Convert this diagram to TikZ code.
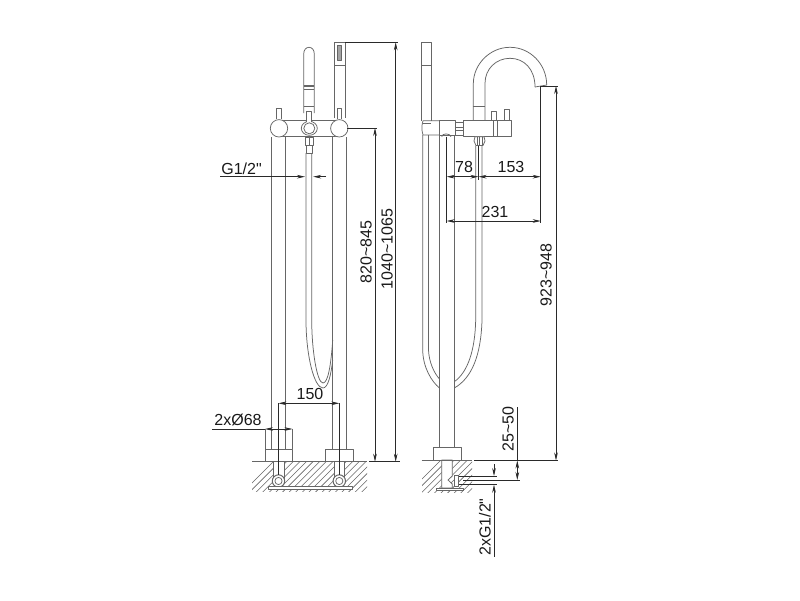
\documentclass[tikz,border=0pt]{standalone}
\usepackage{fontspec}
\setmainfont{Liberation Sans}
\newfontfamily\plainquote{Liberation Sans}
\usetikzlibrary{arrows.meta}
\definecolor{partc}{HTML}{666666}
\definecolor{dimc}{HTML}{2A2A2A}
\tikzset{
  part/.style={draw=partc,line width=0.75pt,line join=round},
  hatchline/.style={draw=partc,line width=0.55pt},
  masked/.style={part,fill=white},
  dimline/.style={draw=dimc,line width=0.65pt},
  dimarrow/.style={dimline,{Stealth[length=8pt,width=3.6pt]}-{Stealth[length=8pt,width=3.6pt]}},
  endarrow/.style={dimline,-{Stealth[length=8pt,width=3.6pt]}},
  extline/.style={draw=dimc,line width=0.55pt},
  dimtext/.style={font=\fontsize{16}{16}\selectfont,text=black!90,inner sep=0pt},
  dimup/.style={dimtext,rotate=90}
}
\begin{document}
\begin{tikzpicture}[x=1pt,y=-1pt]
\useasboundingbox[fill=white] (0,0) rectangle (800,600);
% ---------- hatching of the floor
\begin{scope}
  \clip (252,462) rectangle (367,491);
  \foreach \i in {0,...,24} \draw[hatchline] (240+\i*6.6,495) -- (240+\i*6.6+38,457);
\end{scope}
\begin{scope}
  \clip (422,461) rectangle (472,492);
  \foreach \i in {0,...,12} \draw[hatchline] (405+\i*6.6,496) -- (405+\i*6.6+38,458);
\end{scope}
% ---------- LEFT VIEW
% hand shower (capsule handle)
\draw[part] (303.7,113) -- (303.7,54) .. controls (303.7,50) and (306,47.3) .. (309,47.3) .. controls (312,47.3) and (314.3,50) .. (314.3,54) -- (314.3,113);
\draw[part,line width=1.1pt] (303.7,86) -- (314.3,86);
\draw[part] (303.7,89) -- (314.3,89);
\draw[part] (303.7,106) -- (314.3,106);
% hand shower (head)
\draw[part] (334.3,118) -- (334.3,42.3) -- (345,42.3) -- (345,118);
\draw[part] (334.3,65) -- (345,65);
\draw[part,fill=partc!60] (337.7,45.7) rectangle (341.7,60);
% body
\draw[part] (279,120) -- (339,120);
\draw[part] (279,136.7) -- (339,136.7);
\draw[masked] (276.7,119) -- (276.7,108.7) -- (281,108.7) -- (281,119);
\draw[masked] (337.3,119) -- (337.3,108.7) -- (341.7,108.7) -- (341.7,119);
\draw[masked] (279,128.3) circle[radius=8.7pt];
\draw[masked] (339.3,128.3) circle[radius=8.7pt];
\draw[masked] (309.3,128.3) ellipse[x radius=8pt,y radius=7pt];
\draw[masked] (309.3,128.3) ellipse[x radius=5.5pt,y radius=5.5pt];
\draw[masked] (306.7,122) -- (306.7,111.7) -- (311.3,111.7) -- (311.3,122);
% columns
\draw[part] (271.6,137) -- (271.6,449);
\draw[part] (285.6,137) -- (285.6,449);
\draw[part] (332.7,137) -- (332.7,449);
\draw[part] (346.7,137) -- (346.7,449);
% hose, left view
\draw[part] (305,137) rectangle (313.3,145);
\draw[part] (309.2,137) -- (309.2,145);
\draw[part] (306,145) rectangle (312.5,153);
\draw[part] (306,153) -- (306,320) .. controls (306,355) and (314,388) .. (323,388) .. controls (328,388) and (331,375) .. (332.7,360);
\draw[part] (311.7,153) -- (311.7,320) .. controls (311.7,350) and (317,383) .. (323,383) .. controls (328,383) and (331,365) .. (332.7,340);
% bases
\draw[part] (265,429) -- (265,449);
\draw[part] (292.5,429) -- (292.5,449);
\draw[part] (265,449) rectangle (292.7,461.7);
\draw[part] (325.7,449) rectangle (353.3,461.7);
% in-floor pipes, left view
\draw[masked] (273.3,461.7) rectangle (284,478);
\draw[masked] (334,461.7) rectangle (344.7,478);
\draw[masked,line width=1pt] (278.5,481) circle[radius=6.2pt];
\draw[masked] (278.5,481) circle[radius=3.6pt];
\draw[masked,line width=1pt] (339.3,481) circle[radius=6.2pt];
\draw[masked] (339.3,481) circle[radius=3.6pt];
\draw[masked] (268,486) rectangle (352,489);
\draw[part] (252,461.7) -- (367,461.7);
% ---------- RIGHT VIEW
% hand shower
\draw[part] (421.7,120.7) -- (421.7,42.3) -- (431,42.3) -- (431,120.7);
\draw[part] (421.7,65) -- (431,65);
% holder
\draw[part] (439,120.7) -- (423,120.7) .. controls (421.5,126) and (421.5,130) .. (423,135) -- (439,135);
\draw[part] (423,123) -- (431,123);
% riser and body
\draw[part] (439.5,120) rectangle (455,135);
\draw[part] (455.5,122) rectangle (463.3,135);
\draw[part] (455.5,127) -- (463.3,127);
\draw[part] (455.5,130) -- (463.3,130);
\draw[part] (463.3,120.7) rectangle (511.7,136.7);
\draw[part] (493.3,120.7) -- (493.3,136.7);
\draw[part] (497.3,120.7) -- (497.3,136.7);
\draw[part] (439.5,135) -- (439.5,447.7);
\draw[part] (454.3,135) -- (454.3,447.7);
\draw[part] (441.7,136.7) .. controls (442,133) and (450,133) .. (451,136.7);
% pins
\draw[part] (491.7,120.7) -- (491.7,111.7) -- (496,111.7) -- (496,120.7);
\draw[part] (504.3,120.7) -- (504.3,109) -- (509.3,109) -- (509.3,120.7);
% spout
\draw[part] (473.3,120) -- (473.3,84) .. controls (473.3,64) and (490,47.3) .. (510,47.3) .. controls (530,47.3) and (546.7,64) .. (546.7,85) -- (535,87);
\draw[part] (485,120) -- (485,106) -- (485,83.3) .. controls (485,69) and (496,58.3) .. (510,58.3) .. controls (524,58.3) and (535,69) .. (535,87);
\draw[part] (473.3,106) -- (485,106);
\draw[masked] (475,136.7) -- (484,136.7) -- (485,141) -- (483,145.5) -- (476,145.5) -- (474,141) -- cycle;
\draw[part] (477,137) -- (477,145) (482,137) -- (482,145) (479.5,137) -- (479.5,145);
% hoses, right view
\draw[part] (422.7,135) -- (422.7,350) .. controls (423,368) and (432,382) .. (439.5,388);
\draw[part] (428.5,135) -- (428.5,350) .. controls (429,362) and (434,373) .. (439.5,379);
\draw[part] (475.7,145.5) -- (475.7,320) .. controls (475,350) and (468,372) .. (454.3,381.7);
\draw[part] (482,145.5) -- (482,320) .. controls (481,355) and (472,378) .. (454.3,388);
% base and in-floor detail
\draw[part] (433.3,447.7) rectangle (461,460);
\draw[masked] (441.7,460) -- (441.7,488) -- (452.3,488) -- (452.3,484) -- (448,480) -- (452.3,476) -- (452.3,460) -- cycle;
\draw[masked] (454.3,475) rectangle (458.3,486);
\draw[masked] (436,488) rectangle (463,490);
\draw[part] (421.7,460) -- (472,460);
% ---------- DIMENSIONS
\coordinate (g1a) at (220,176.7);
\coordinate (g1b) at (305,176.7);
\coordinate (g1c) at (326,176.7);
\coordinate (g1d) at (313.2,176.7);
\draw[endarrow] (g1a) -- (g1b);
\draw[endarrow] (g1c) -- (g1d);
\node[dimtext] (g1lab) at (241.5,168.5) {G1/2{\plainquote "}};
\coordinate (e1a) at (345,42.3);
\coordinate (e1b) at (397.5,42.3);
\draw[extline] (e1a) -- (e1b);
\coordinate (e2a) at (347,128);
\coordinate (e2b) at (377,128);
\draw[extline] (e2a) -- (e2b);
\coordinate (e3a) at (369,461.7);
\coordinate (e3b) at (400,461.7);
\draw[extline] (e3a) -- (e3b);
\draw[dimarrow] (395.7,42.3) -- (395.7,461.7);
\draw[dimarrow] (375,128) -- (375,461.7);
\node[dimup] (d820) at (366,252) {820\textasciitilde845};
\node[dimup] (d1040) at (387,249) {1040\textasciitilde1065};
% 150
\draw[extline] (278.4,403.3) -- (278.4,475);
\draw[extline] (339.3,403.3) -- (339.3,475);
\draw[dimarrow] (278.4,403.3) -- (339.3,403.3);
\node[dimtext] (d150) at (310,394) {150};
% 2x dia 68
\coordinate (ph1) at (212,429);
\coordinate (ph2) at (265,429);
\coordinate (ph3) at (292.5,429);
\draw[extline] (ph1) -- (ph2);
\draw[dimarrow] (ph2) -- (ph3);
\node[dimtext] (dph) at (238,420) {2xØ68};
% 78 / 153 / 231
\draw[extline] (446.7,136.7) -- (446.7,223);
\draw[extline] (478.5,145.5) -- (478.5,180);
\draw[extline] (540.7,87) -- (540.7,223);
\draw[dimarrow] (446.7,176.7) -- (478.5,176.7);
\draw[dimarrow] (478.5,176.7) -- (540.7,176.7);
\draw[dimarrow] (446.7,221) -- (540.7,221);
\node[dimtext] (d78) at (464,167) {78};
\node[dimtext] (d153) at (511,167) {153};
\node[dimtext] (d231) at (495,212) {231};
% 923~948
\draw[extline] (540,86) -- (558,86);
\draw[extline] (474,460.5) -- (558,460.5);
\draw[dimarrow] (556,86) -- (556,460.5);
\node[dimup] (d923) at (546,275) {923\textasciitilde948};
% 25~50
\draw[extline] (517.3,407) -- (517.3,460);
\draw[extline] (463,480) -- (520,480);
\draw[dimarrow] (517.3,460.5) -- (517.3,480);
\node[dimup] (d25) at (508,429) {25\textasciitilde50};
% 2xG1/2
\draw[extline] (459,476) -- (497,476);
\draw[extline] (459,484.7) -- (497,484.7);
\draw[endarrow] (494,464) -- (494,476);
\draw[endarrow] (494,556.7) -- (494,484.7);
\node[dimup] (dg) at (485,527) {2xG1/2{\plainquote "}};
\end{tikzpicture}
\end{document}
